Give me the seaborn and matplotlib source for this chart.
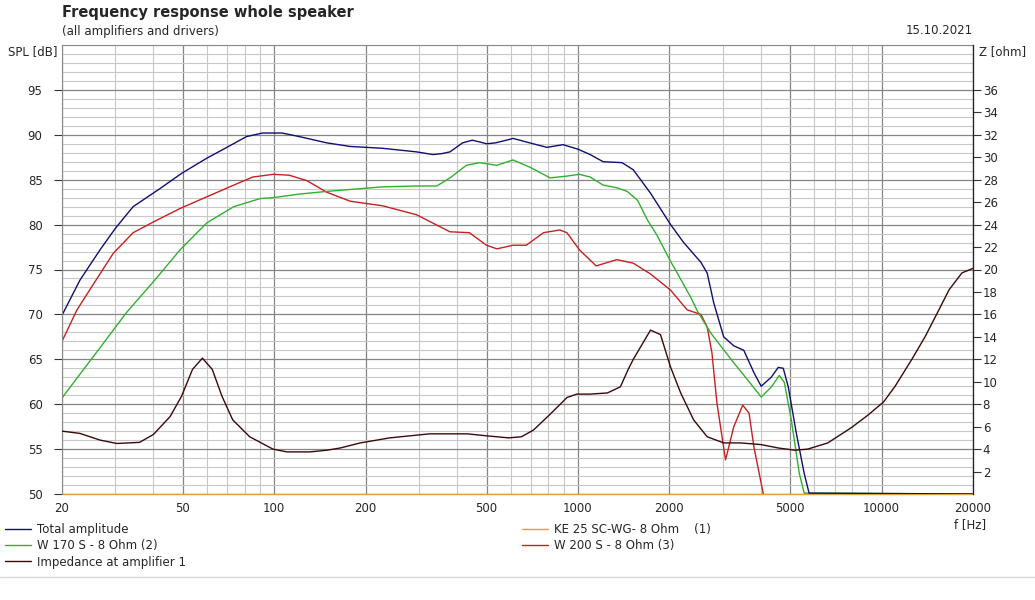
import matplotlib
matplotlib.use("Agg")
import matplotlib.pyplot as plt
import matplotlib.ticker as mticker
import numpy as np
import pandas as pd
import seaborn as sns

# values
freq_total = [20, 22.9, 26.7, 30, 34.3, 42, 49.5, 60, 69.8, 81, 91.6, 106, 121, 149, 178,
              227, 294, 333, 356, 379, 417, 449, 475, 500, 535, 597, 611, 694, 791, 893,
              1000, 1097, 1211, 1397, 1522, 1734, 2019, 2230, 2541, 2665, 2800, 3020, 3261,
              3518, 3800, 4013, 4330, 4568, 4745, 4930, 5237, 5560, 5770, 20000]
spl_total = [69.9, 73.8, 77.2, 79.6, 82.0, 84.0, 85.7, 87.4, 88.6, 89.8, 90.2, 90.2, 89.8, 89.1, 88.7,
             88.5, 88.1, 87.8, 87.9, 88.1, 89.1, 89.4, 89.2, 89.0, 89.1, 89.5, 89.6, 89.1, 88.6, 88.9,
             88.4, 87.8, 87.0, 86.9, 86.1, 83.5, 80.0, 78.0, 75.8, 74.6, 71.3, 67.5, 66.5,
             66.0, 63.5, 62.0, 63.0, 64.1, 64.0, 61.9, 56.8, 52.3, 50.1, 50.0]

freq_w170 = [20, 26.7, 32.6, 39.9, 49, 60, 73.6, 89.9, 99.3, 121, 149, 192, 227, 294, 343,
             379, 429, 475, 541, 611, 694, 810, 920, 1011, 1097, 1211, 1344, 1453, 1572, 1695,
             1822, 2019, 2124, 2352, 2480, 2742, 3261, 3622, 4013, 4330, 4605, 4786, 5045,
             5358, 5560, 20000]
spl_w170 = [60.7, 66.3, 70.2, 73.6, 77.2, 80.2, 82.0, 82.9, 83.0, 83.4, 83.7, 84.0, 84.2, 84.3, 84.3,
            85.2, 86.6, 86.9, 86.6, 87.2, 86.4, 85.2, 85.4, 85.6, 85.3, 84.4, 84.1, 83.7, 82.7, 80.5,
            78.8, 75.9, 74.6, 71.9, 70.3, 67.9, 64.6, 62.7, 60.8, 61.9, 63.2, 62.4, 58.2,
            52.3, 50.1, 50.0]

freq_w200 = [20, 22.4, 25.3, 29.5, 34.3, 40, 49, 60, 73.6, 85, 99.3, 112, 128, 149, 178,
             227, 294, 379, 439, 500, 541, 611, 676, 770, 871, 920, 1011, 1148, 1344, 1522,
             1734, 2019, 2290, 2541, 2665, 2763, 2870, 3063, 3261, 3490, 3660, 3800, 4073, 4200]
spl_w200 = [67.0, 70.5, 73.3, 76.8, 79.1, 80.3, 81.8, 83.1, 84.4, 85.3, 85.6, 85.5, 84.9, 83.6, 82.6,
            82.1, 81.1, 79.2, 79.1, 77.7, 77.3, 77.7, 77.7, 79.1, 79.4, 79.1, 77.2, 75.4, 76.1, 75.7,
            74.5, 72.7, 70.5, 70.0, 68.6, 65.7, 60.1, 53.8, 57.5, 59.9, 59.0, 55.2, 50.1, 48.0]

freq_ke25 = [20, 20000]
spl_ke25 = [50.0, 50.0]

freq_imp = [20, 22.9, 26.7, 30.3, 36, 40, 45.4, 49.5, 53.8, 58, 62.5, 67.3, 73, 83, 99,
            110, 131, 149, 165, 192, 240, 325, 432, 493, 591, 652, 714, 806, 921, 992,
            1097, 1250, 1380, 1464, 1522, 1734, 1870, 2019, 2180, 2405, 2665, 3020, 3436,
            4013, 4568, 5175, 5710, 6650, 7940, 9040, 10150, 11050, 12580, 13900, 15440,
            16690, 18400, 20000]
z_imp = [5.6, 5.4, 4.8, 4.5, 4.6, 5.3, 6.9, 8.7, 11.1, 12.1, 11.1, 8.7, 6.6, 5.1, 4.0,
         3.75, 3.75, 3.9, 4.1, 4.55, 5.0, 5.36, 5.36, 5.2, 5.0, 5.1, 5.7, 7.05, 8.6, 8.9,
         8.9, 9.0, 9.55, 11.1, 12.0, 14.6, 14.2, 11.3, 9.0, 6.6, 5.1, 4.55, 4.55,
         4.4, 4.1, 3.9, 4.0, 4.55, 5.9, 7.05, 8.2, 9.55, 12.0, 14.0, 16.4,
         18.2, 19.7, 20.1]

x_ticks = [20, 50, 100, 200, 500, 1000, 2000, 5000, 10000, 20000]
spl_ticks = [50, 55, 60, 65, 70, 75, 80, 85, 90, 95]
z_ticks = list(range(2, 38, 2))

sns.set_style("white")
plt.rcParams['font.family'] = ['DejaVu Sans']

fig = plt.figure(figsize=(10.35, 6), dpi=100)
ax = fig.add_axes([62 / 1035, 1 - 494 / 600, (973 - 62) / 1035, (494 - 45) / 600])
ax2 = ax.twinx()

c_total = '#101070'
c_w170 = '#30b030'
c_w200 = '#c82020'
c_imp = '#3a0a0a'
c_ke25 = '#e0a040'

# orange first so the navy flat tail of the total sits on top of it
series = [
    (freq_ke25, spl_ke25, c_ke25, 'KE 25 SC-WG- 8 Ohm    (1)'),
    (freq_w200, spl_w200, c_w200, 'W 200 S - 8 Ohm (3)'),
    (freq_w170, spl_w170, c_w170, 'W 170 S - 8 Ohm (2)'),
    (freq_total, spl_total, c_total, 'Total amplitude'),
]
handles = {}
for f, v, c, name in series:
    d = pd.DataFrame({'f': f, 'v': v})
    sns.lineplot(data=d, x='f', y='v', ax=ax, color=c, lw=1.0, label=name, legend=False)
    handles[name] = ax.lines[-1]
handles['KE 25 SC-WG- 8 Ohm    (1)'].set_clip_on(False)

d_imp = pd.DataFrame({'f': freq_imp, 'z': z_imp})
sns.lineplot(data=d_imp, x='f', y='z', ax=ax2, color=c_imp, lw=1.0, legend=False)
handles['Impedance at amplifier 1'] = ax2.lines[-1]

ax.set_xscale('log')
ax.set_xlim(20, 20000)
ax.set_ylim(50, 100)
ax2.set_ylim(0, 40)

ax.set_xticks(x_ticks)
ax.xaxis.set_major_formatter(mticker.FuncFormatter(lambda v, p: f'{v:g}'))
ax.xaxis.set_minor_locator(mticker.LogLocator(base=10, subs=np.arange(2, 10)))
ax.xaxis.set_minor_formatter(mticker.NullFormatter())
ax.set_yticks(spl_ticks)
ax.yaxis.set_minor_locator(mticker.MultipleLocator(1))
ax2.set_yticks(z_ticks)

ax.grid(which='major', axis='both', color='#858585', lw=0.9)
ax.grid(which='minor', axis='both', color='#c8c8c8', lw=0.8)
ax.set_axisbelow(True)
ax2.grid(False)

ax.tick_params(axis='x', which='major', direction='out', length=4, width=0.8, color='#555555',
               labelsize=8.5, pad=2)
ax.tick_params(axis='x', which='minor', length=0)
ax.tick_params(axis='y', which='major', direction='out', length=6, width=0.8, color='#333333',
               labelsize=8.5, pad=8)
ax.tick_params(axis='y', which='minor', length=0)
ax2.tick_params(axis='y', direction='out', length=6, width=0.8, color='#333333',
                labelsize=8.5, pad=1)
ax.set_xlabel('')
ax.set_ylabel('')
ax2.set_ylabel('')

for sp in ax.spines.values():
    sp.set_color('#888888')
    sp.set_linewidth(0.8)
ax.spines['bottom'].set_visible(False)
for sp in ax2.spines.values():
    sp.set_visible(False)
ax2.spines['right'].set_visible(True)
ax2.spines['right'].set_color('#222222')
ax2.spines['right'].set_linewidth(0.9)

fig.text(62 / 1035, 1 - 12 / 600, 'Frequency response whole speaker', fontsize=10.5,
         fontweight='bold', va='center', ha='left')
fig.text(62 / 1035, 1 - 31 / 600, '(all amplifiers and drivers)', fontsize=8.5,
         va='center', ha='left')
fig.text(973 / 1035, 1 - 31 / 600, '15.10.2021', fontsize=8.5, va='center', ha='right')
fig.text(57 / 1035, 1 - 52 / 600, 'SPL [dB]', fontsize=8.5, va='center', ha='right')
fig.text(979 / 1035, 1 - 52 / 600, 'Z [ohm]', fontsize=8.5, va='center', ha='left')
fig.text(970 / 1035, 1 - 525 / 600, 'f [Hz]', fontsize=8.5, va='center', ha='center')

left_names = ['Total amplitude', 'W 170 S - 8 Ohm (2)', 'Impedance at amplifier 1']
right_names = ['KE 25 SC-WG- 8 Ohm    (1)', 'W 200 S - 8 Ohm (3)']
leg_kw = dict(frameon=False, fontsize=8.5, handlelength=2.2, handletextpad=0.5,
              labelspacing=0.28, borderaxespad=0, borderpad=0)
fig.legend([handles[n] for n in left_names], left_names, loc='upper left',
           bbox_to_anchor=(5 / 1035, 1 - 523 / 600), **leg_kw)
fig.legend([handles[n] for n in right_names], right_names, loc='upper left',
           bbox_to_anchor=(522 / 1035, 1 - 523 / 600), **leg_kw)

fig.add_artist(plt.Line2D([0, 1], [1 - 577 / 600, 1 - 577 / 600], color='#d8d8d8', lw=1))

fig.savefig('out.png', dpi=100)
